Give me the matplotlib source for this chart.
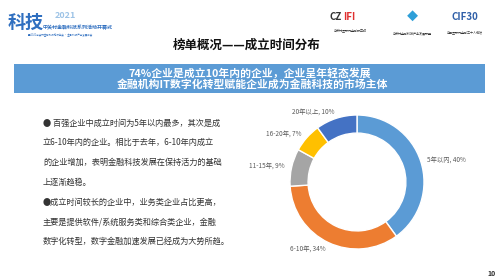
import matplotlib
matplotlib.use("Agg")
import matplotlib.pyplot as plt
from matplotlib.patches import Rectangle

plt.rcParams['font.family'] = ['Noto Sans CJK SC', 'DejaVu Sans']

categories = ["5年以内", "6-10年", "11-15年", "16-20年", "20年以上"]
values = [40, 34, 9, 7, 10]
colors = ["#5B9BD5", "#ED7D31", "#A5A5A5", "#FFC000", "#4472C4"]

title = "榜单概况——成立时间分布"
banner_lines = ["74%企业是成立10年内的企业，企业呈年轻态发展",
                "金融机构IT数字化转型赋能企业成为金融科技的市场主体"]
body_lines = ["● 百强企业中成立时间为5年以内最多，其次是成",
              "立6-10年内的企业。相比于去年，6-10年内成立",
              "的企业增加，表明金融科技发展在保持活力的基础",
              "上逐渐趋稳。",
              "●成立时间较长的企业中，业务类企业占比更高，",
              "主要是提供软件/系统服务类和综合类企业，金融",
              "数字化转型，数字金融加速发展已经成为大势所趋。"]
page_no = "10"

W, H = 500, 280
fig = plt.figure(figsize=(5, 2.8), dpi=100)
fig.patch.set_facecolor("white")

def fx(px):
    return px / W

def fy(py):
    return 1 - py / H

# Header logos (approximate as text)
fig.text(fx(8), fy(22), "科技", fontsize=13, color="#2F6FC0", fontweight="bold",
         style="italic", va="center", ha="left")
fig.text(fx(55), fy(16), "2021", fontsize=6.5, color="#9DC3E6", fontweight="bold",
         va="center", ha="left")
fig.text(fx(43), fy(28), "中关村金融科技系列活动开幕式", fontsize=3.6, color="#2F6FC0",
         fontweight="bold", va="center", ha="left")
fig.text(fx(28), fy(34), "暨2021中关村金融科技论坛年会 · 金融科技产业发展峰会", fontsize=1.8,
         color="#2F6FC0", va="center", ha="left")

fig.text(fx(330), fy(17), "CZ", fontsize=7, color="#333333", fontweight="bold", va="center", ha="left")
fig.text(fx(343), fy(17), "IFI", fontsize=7, color="#E03030", fontweight="bold", va="center", ha="left")
fig.text(fx(350), fy(30), "中关村互联网金融研究院", fontsize=2.2, color="#333333", va="center", ha="center")
fig.text(fx(412), fy(16), "◆", fontsize=8, color="#2E9FD8", va="center", ha="center")
fig.text(fx(412), fy(33), "中关村金融科技产业发展联盟", fontsize=2.2, color="#333333", va="center", ha="center")
fig.text(fx(465), fy(17), "CIF30", fontsize=7, color="#2F5FA8", fontweight="bold", va="center", ha="center")
fig.text(fx(465), fy(32), "中国互联网金融三十人论坛", fontsize=2.2, color="#333333", va="center", ha="center")

# Title
fig.text(fx(247), fy(45), title, fontsize=9, fontweight="bold", color="#111111",
         ha="center", va="center")

# Banner
fig.patches.append(Rectangle((fx(14), fy(93)), fx(485) - fx(14), fy(64) - fy(93),
                             transform=fig.transFigure, facecolor="#5B9BD5",
                             edgecolor="none", zorder=0))
fig.text(fx(250), fy(73), banner_lines[0], fontsize=7.8, fontweight="bold", color="white",
         ha="center", va="center")
fig.text(fx(253), fy(84), banner_lines[1], fontsize=7.8, fontweight="bold", color="white",
         ha="center", va="center")

# Body text
for i, line in enumerate(body_lines):
    fig.text(fx(43), fy(123 + i * 19.8), line, fontsize=5.9, color="#333333",
             ha="left", va="center")

fig.text(fx(492), fy(274), page_no, fontsize=5, color="#333333", fontweight="bold",
         ha="center", va="center")

# Donut
cx, cy, r = 357, 182, 67
ax = fig.add_axes([fx(cx - r), fy(cy + r), 2 * r / W, 2 * r / H])
labels = [f"{c}, {v}%" for c, v in zip(categories, values)]
wedges, texts = ax.pie(values, colors=colors, startangle=90, counterclock=False,
                       radius=1, labels=labels, labeldistance=1.1,
                       wedgeprops=dict(width=0.27, edgecolor="white", linewidth=1.0),
                       textprops=dict(fontsize=4.6, color="#595959"))
ax.set_xlim(-1, 1)
ax.set_ylim(-1, 1)
ax.set_aspect("equal")
ax.axis("off")

fig.savefig("out.png", dpi=100, facecolor="white")
